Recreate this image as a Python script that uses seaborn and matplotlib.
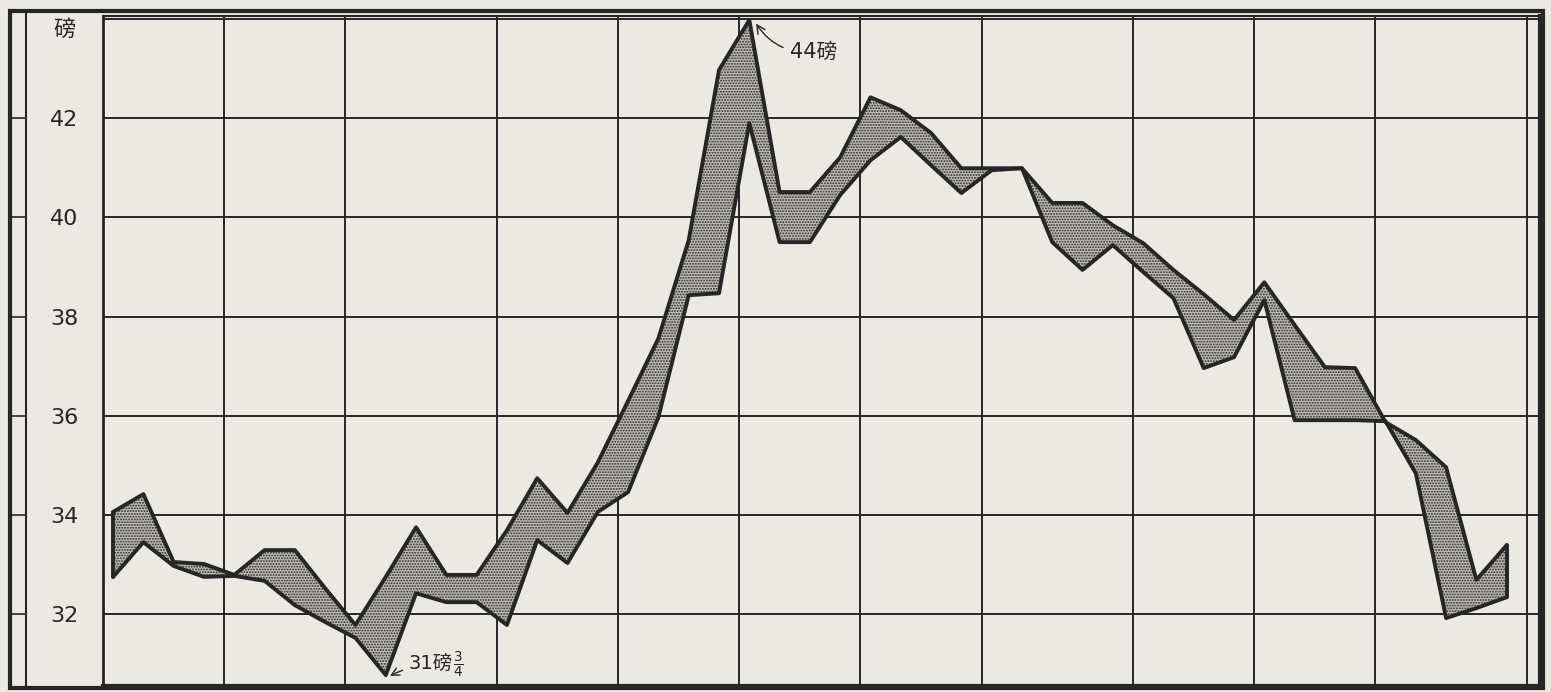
import matplotlib.pyplot as plt
import matplotlib.transforms as mtrans
import numpy as np
import pandas as pd
import seaborn as sns

# weekly high / low (index 0 = first week)
weeks = list(range(47))
upper = [34.06, 34.42, 33.05, 33.01, 32.79, 33.29, 33.29, 32.52, 31.78, 32.75,
         33.75, 32.79, 32.79, 33.69, 34.74, 34.04, 35.06, 36.30, 37.56, 39.54,
         42.97, 43.98, 40.51, 40.51, 41.21, 42.42, 42.16, 41.70, 40.99, 40.99,
         40.99, 40.29, 40.29, 39.84, 39.48, 38.94, 38.45, 37.93, 38.69, 37.83,
         36.98, 36.96, 35.87, 35.51, 34.96, 32.69, 33.39]
lower = [32.75, 33.45, 32.97, 32.75, 32.77, 32.67, 32.18, 31.84, 31.52, 30.77,
         32.42, 32.24, 32.24, 31.78, 33.49, 33.03, 34.06, 34.46, 35.97, 38.43,
         38.47, 41.90, 39.50, 39.50, 40.45, 41.15, 41.62, 41.05, 40.49, 40.95,
         40.99, 39.50, 38.94, 39.44, 38.90, 38.37, 36.96, 37.18, 38.33, 35.91,
         35.91, 35.91, 35.89, 34.84, 31.92, 32.12, 32.34]
month_lengths = [4, 4, 5, 4, 4, 4, 4, 5, 4, 4, 5]
y_ticks = [32, 34, 36, 38, 40, 42, 44]
y_labels = ['32', '34', '36', '38', '40', '42', '']
unit_label = '磅'
peak_note = '44磅'
low_note = '31磅'
low_frac = '$\\frac{3}{4}$'

PAPER = '#ece9e3'
INK = '#262626'

sns.set_theme(style='white')
plt.rcParams['font.family'] = ['DejaVu Sans', 'Noto Sans CJK SC']
plt.rcParams['hatch.linewidth'] = 0.9

df = pd.DataFrame({'week': weeks, 'upper': upper, 'lower': lower})

W, H = 1551, 692
fig = plt.figure(figsize=(W / 100, H / 100), dpi=100, facecolor=PAPER)
ax = fig.add_axes([103 / W, 6 / H, 1437 / W, 670 / H])
ax.set_facecolor(PAPER)

# stippled band between the weekly low and high
ax.fill_between(df['week'], df['lower'], df['upper'], facecolor='#bdbab3',
                edgecolor='#2a2a2a', hatch='......', linewidth=0, zorder=2)
sns.lineplot(data=df, x='week', y='upper', color=INK, lw=2.8, ax=ax, zorder=3)
sns.lineplot(data=df, x='week', y='lower', color=INK, lw=2.8, ax=ax, zorder=3)
ax.plot([weeks[0]] * 2, [lower[0], upper[0]], color=INK, lw=2.8, zorder=3)
ax.plot([weeks[-1]] * 2, [lower[-1], upper[-1]], color=INK, lw=2.8, zorder=3)

# month grid (4- and 5-week months)
grid_x = -1 / 3 + np.concatenate([[0], np.cumsum(month_lengths)])
ax.set_xticks(grid_x)
ax.set_xticklabels([])
ax.set_yticks(y_ticks)
ax.set_yticklabels(y_labels, fontsize=16, color=INK)
ax.tick_params(axis='both', length=0)
ax.tick_params(axis='y', pad=18)
ax.grid(True, color=INK, lw=1.4)
ax.set_axisbelow(True)
ax.set_xlim(-1 / 3, 47.1)
ax.set_ylim(30.55, 44.06)
ax.set_xlabel('')
ax.set_ylabel('')
for side, lw in [('left', 2), ('right', 3), ('bottom', 3), ('top', 1.5)]:
    ax.spines[side].set_color(INK)
    ax.spines[side].set_linewidth(lw)

# outer frame and left margin strip
fig.add_artist(plt.Rectangle((10 / W, 4 / H), 1533 / W, 677 / H, fill=False,
                             edgecolor=INK, lw=3, transform=fig.transFigure))
fig.add_artist(plt.Line2D([26 / W, 26 / W], [4 / H, 681 / H], color=INK, lw=1.5,
                          transform=fig.transFigure))
strip = mtrans.blended_transform_factory(fig.transFigure, ax.transData)
for t in y_ticks[:-1]:
    ax.plot([10 / W, 26 / W], [t, t], color=INK, lw=1.2, transform=strip, clip_on=False)
ax.text(64 / W, 43.78, unit_label, transform=strip, fontsize=16, color=INK,
        ha='center', va='center')

# notes
ax.annotate(peak_note, xy=(21.2, 43.93), xytext=(22.35, 43.33), fontsize=15,
            color=INK, ha='left', va='center',
            arrowprops=dict(arrowstyle='->', color=INK, lw=1,
                            connectionstyle='arc3,rad=-0.3', shrinkA=3, shrinkB=1))
low = ax.annotate(low_note, xy=(9.1, 30.74), xytext=(9.75, 31.0), fontsize=14,
                  color=INK, ha='left', va='center',
                  arrowprops=dict(arrowstyle='->', color=INK, lw=1,
                                  connectionstyle='arc3,rad=0.1', shrinkA=2, shrinkB=1))
ax.annotate(low_frac, xy=(1, 0.5), xycoords=low, fontsize=14, color=INK,
            ha='left', va='center')

fig.savefig('out.png', dpi=100, facecolor=PAPER)
plt.close(fig)
